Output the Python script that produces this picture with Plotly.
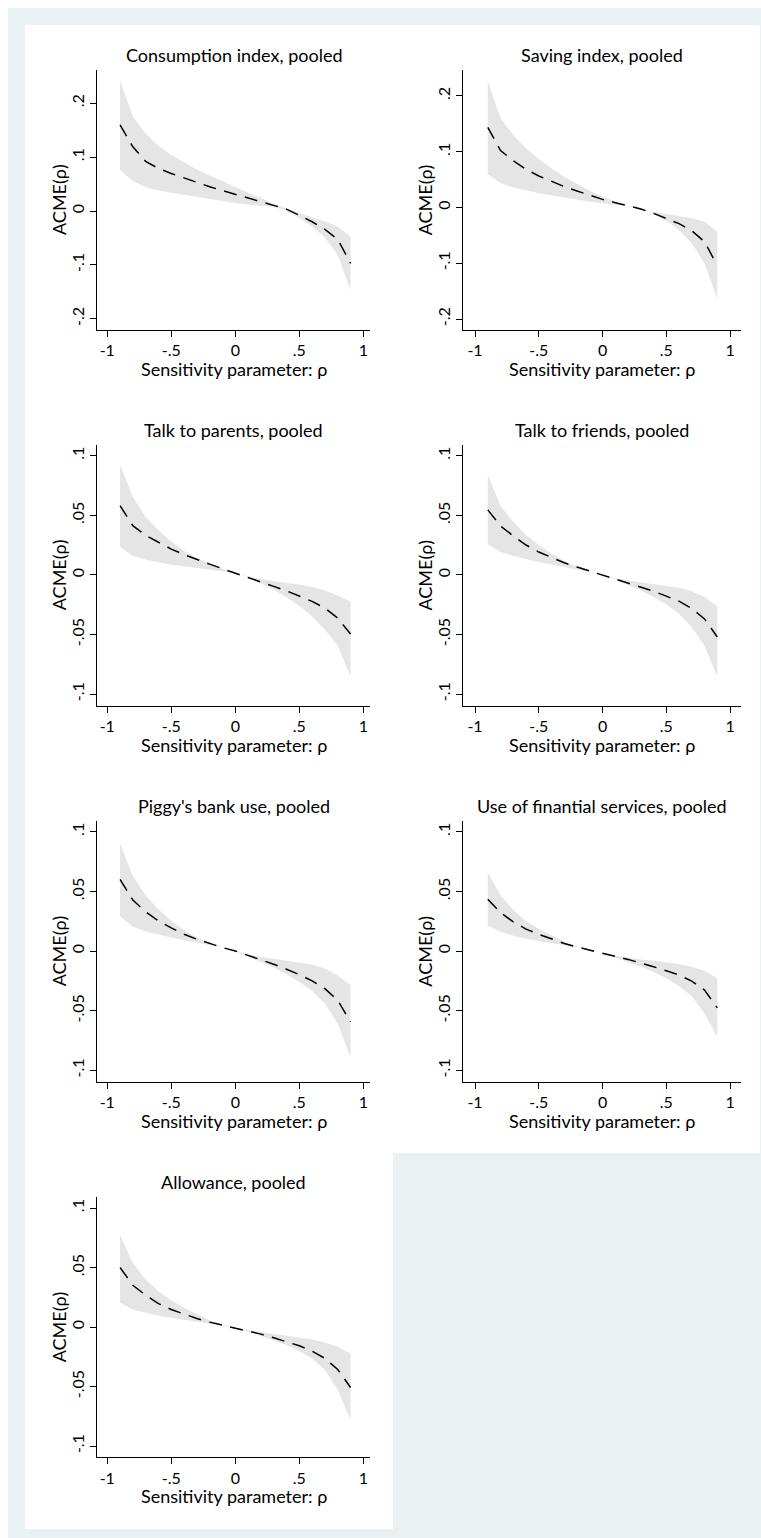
import plotly.graph_objects as go

# ---------------- data ----------------
RHO = [-0.9, -0.8, -0.7, -0.6, -0.5, -0.4, -0.3, -0.2, -0.1, 0.0,
       0.1, 0.2, 0.3, 0.4, 0.5, 0.6, 0.7, 0.8, 0.9]

TITLES = ["Consumption index, pooled", "Saving index, pooled",
          "Talk to parents, pooled", "Talk to friends, pooled",
          "Piggy's bank use, pooled", "Use of finantial services, pooled",
          "Allowance, pooled"]

ACME_CONS = [0.160, 0.119, 0.092, 0.079, 0.0695, 0.061, 0.053, 0.045, 0.0378, 0.031,
             0.0245, 0.018, 0.011, 0.0035, -0.008, -0.020, -0.034, -0.0526, -0.097]
UP_CONS = [0.2418, 0.176, 0.144, 0.121, 0.104, 0.090, 0.077, 0.066, 0.055, 0.044,
           0.034, 0.024, 0.013, 0.0045, -0.004, -0.012, -0.019, -0.029, -0.0476]
LO_CONS = [0.076, 0.0557, 0.044, 0.038, 0.034, 0.030, 0.026, 0.022, 0.018, 0.015,
           0.012, 0.0095, 0.0075, 0.0005, -0.013, -0.029, -0.049, -0.0816, -0.1466]

ACME_SAV = [0.1438, 0.102, 0.084, 0.0685, 0.0565, 0.0464, 0.0374, 0.0296, 0.0218, 0.0146,
            0.0087, 0.0033, -0.0027, -0.0105, -0.0194, -0.029, -0.0416, -0.0613, -0.1043]
UP_SAV = [0.2269, 0.160, 0.130, 0.106, 0.087, 0.070, 0.0553, 0.0422, 0.0302, 0.0194,
          0.0105, 0.0027, -0.0045, -0.0087, -0.0117, -0.0152, -0.0194, -0.0254, -0.0433]
LO_SAV = [0.060, 0.0433, 0.0362, 0.0302, 0.0254, 0.0213, 0.0176, 0.0135, 0.0105, 0.0075,
          0.0051, 0.0027, -0.0015, -0.0105, -0.0236, -0.0404, -0.0643, -0.100, -0.164]

ACME_PAR = [0.0581, 0.0413, 0.0332, 0.0273, 0.0217, 0.017, 0.0128, 0.0091, 0.0052, 0.0016,
            -0.0021, -0.0054, -0.0096, -0.0133, -0.0175, -0.0222, -0.0278, -0.0362, -0.0496]
UP_PAR = [0.0925, 0.0654, 0.0486, 0.0374, 0.0281, 0.0203, 0.0142, 0.0094, 0.0052, 0.0016,
          -0.0012, -0.0035, -0.0052, -0.0065, -0.008, -0.0102, -0.013, -0.0172, -0.0222]
LO_PAR = [0.0234, 0.0161, 0.0128, 0.0105, 0.0086, 0.0072, 0.0058, 0.0046, 0.0032, 0.0016,
          -0.0018, -0.0068, -0.0124, -0.0186, -0.0259, -0.0348, -0.046, -0.0594, -0.0852]

ACME_FRI = [0.0546, 0.0411, 0.0327, 0.0251, 0.0192, 0.0144, 0.0102, 0.0066, 0.0032, 0.0,
            -0.0032, -0.0066, -0.010, -0.0136, -0.0178, -0.022, -0.0282, -0.0369, -0.052]
UP_FRI = [0.084, 0.0579, 0.0445, 0.0335, 0.0251, 0.0178, 0.0116, 0.0066, 0.0027, -0.0004,
          -0.0029, -0.0046, -0.006, -0.0074, -0.0088, -0.0108, -0.0136, -0.0184, -0.0262]
LO_FRI = [0.0257, 0.0192, 0.0158, 0.013, 0.0108, 0.0088, 0.0069, 0.0046, 0.0024, 0.0,
          -0.0038, -0.008, -0.0128, -0.0184, -0.0248, -0.0327, -0.0436, -0.0599, -0.0851]

ACME_PIG = [0.060, 0.0427, 0.0329, 0.0253, 0.0194, 0.0141, 0.0099, 0.0063, 0.0029, 0.0,
            -0.0035, -0.0071, -0.011, -0.0152, -0.0197, -0.025, -0.0315, -0.0413, -0.0594]
UP_PIG = [0.0902, 0.0628, 0.0468, 0.0351, 0.0253, 0.0175, 0.0113, 0.0063, 0.0029, 0.0,
          -0.0027, -0.0049, -0.0066, -0.008, -0.0094, -0.0113, -0.0147, -0.0203, -0.0287]
LO_PIG = [0.0292, 0.0203, 0.0166, 0.0138, 0.0113, 0.0091, 0.0071, 0.0055, 0.0029, 0.0,
          -0.0049, -0.0091, -0.0138, -0.0194, -0.0259, -0.0334, -0.0441, -0.0608, -0.0892]

ACME_FIN = [0.0434, 0.0322, 0.0245, 0.0184, 0.014, 0.010, 0.0064, 0.0034, 0.0006, -0.002,
            -0.0045, -0.007, -0.0098, -0.0131, -0.0165, -0.0201, -0.0252, -0.0327, -0.0476]
UP_FIN = [0.0657, 0.047, 0.0344, 0.0252, 0.0185, 0.0129, 0.0078, 0.0036, 0.0006, -0.002,
          -0.0039, -0.0056, -0.007, -0.0081, -0.0095, -0.0109, -0.0131, -0.0165, -0.0229]
LO_FIN = [0.0213, 0.0162, 0.0129, 0.0103, 0.0084, 0.0064, 0.0048, 0.0031, 0.0008, -0.002,
          -0.0053, -0.009, -0.0131, -0.0176, -0.0229, -0.0294, -0.0378, -0.0523, -0.0719]

ACME_ALL = [0.050, 0.0351, 0.0267, 0.0197, 0.0147, 0.0108, 0.0071, 0.0041, 0.0015, -0.0007,
            -0.0032, -0.006, -0.0091, -0.0124, -0.0158, -0.0203, -0.0264, -0.0357, -0.0508]
UP_ALL = [0.0776, 0.0538, 0.0399, 0.0301, 0.0225, 0.0161, 0.0108, 0.0057, 0.0021, -0.0007,
          -0.0027, -0.0043, -0.006, -0.0074, -0.0088, -0.0105, -0.013, -0.0166, -0.0222]
LO_ALL = [0.0203, 0.0147, 0.0119, 0.0094, 0.0077, 0.006, 0.0043, 0.0029, 0.0013, -0.0007,
          -0.0038, -0.0074, -0.011, -0.0152, -0.0203, -0.0264, -0.0362, -0.053, -0.0782]

X_TICKS = [-1, -0.5, 0, 0.5, 1]
X_LABELS = ["-1", "-.5", "0", ".5", "1"]
Y_TICKS_WIDE = [-0.2, -0.1, 0, 0.1, 0.2]
Y_LABELS_WIDE = ["-.2", "-.1", "0", ".1", ".2"]
Y_TICKS_NARROW = [-0.1, -0.05, 0, 0.05, 0.1]
Y_LABELS_NARROW = ["-.1", "-.05", "0", ".05", ".1"]

X_TITLE = "Sensitivity parameter: ρ"
Y_TITLE = "ACME(ρ)"

SERIES = [(ACME_CONS, UP_CONS, LO_CONS), (ACME_SAV, UP_SAV, LO_SAV),
          (ACME_PAR, UP_PAR, LO_PAR), (ACME_FRI, UP_FRI, LO_FRI),
          (ACME_PIG, UP_PIG, LO_PIG), (ACME_FIN, UP_FIN, LO_FIN),
          (ACME_ALL, UP_ALL, LO_ALL)]

# ---------------- layout geometry (pixels) ----------------
W, H = 761, 1538
FONT = "Lato"
FS = 18
FS_TICK = 16
BG_BLUE = "#EAF1F3"
BAND = "#E5E5E5"

COLS = [(97.0, 370.0, [-1.08, 1.052]), (463.3, 741.0, [-1.092, 1.086])]
ROWS = [(70.0, 330.0), (445.0, 705.5), (821.0, 1081.7), (1197.3, 1457.3)]
Y_RANGES = [[-0.2208, 0.2616], [-0.2197, 0.2466]] + [[-0.1095, 0.109]] * 5


def fx(px):
    return px / W


def fy(py):
    return 1 - py / H


fig = go.Figure()
annotations = []
layout_axes = {}

for i, (title, (mid, up, lo)) in enumerate(zip(TITLES, SERIES)):
    r, c = divmod(i, 2)
    x0, x1, xr = COLS[c]
    y0, y1 = ROWS[r]
    n = i + 1
    xa = "x" if n == 1 else f"x{n}"
    ya = "y" if n == 1 else f"y{n}"
    fig.add_trace(go.Scatter(x=RHO, y=up, mode="lines", line=dict(width=0, color=BAND),
                             xaxis=xa, yaxis=ya, showlegend=False, hoverinfo="skip"))
    fig.add_trace(go.Scatter(x=RHO, y=lo, mode="lines", line=dict(width=0, color=BAND),
                             fill="tonexty", fillcolor=BAND,
                             xaxis=xa, yaxis=ya, showlegend=False, hoverinfo="skip"))
    fig.add_trace(go.Scatter(x=RHO, y=mid, mode="lines",
                             line=dict(width=1.5, color="black", dash="13px,8.5px"),
                             xaxis=xa, yaxis=ya, showlegend=False))
    wide = i < 2
    axcommon = dict(showgrid=False, zeroline=False, showline=True, linecolor="black",
                    linewidth=1, ticks="outside", ticklen=6, tickwidth=1,
                    tickcolor="black", tickfont=dict(family=FONT, size=FS_TICK, color="black"))
    layout_axes["xaxis" if n == 1 else f"xaxis{n}"] = dict(
        domain=[fx(x0), fx(x1)], range=xr, anchor=ya, tickvals=X_TICKS,
        ticktext=X_LABELS, **axcommon)
    layout_axes["yaxis" if n == 1 else f"yaxis{n}"] = dict(
        domain=[fy(y1), fy(y0)], range=Y_RANGES[i], anchor=xa,
        tickvals=Y_TICKS_WIDE if wide else Y_TICKS_NARROW,
        ticktext=Y_LABELS_WIDE if wide else Y_LABELS_NARROW,
        tickangle=-90, **axcommon)
    cx = (x0 + x1) / 2
    annotations.append(dict(text=title, x=fx(cx), y=fy(y0 - 15), xref="paper", yref="paper",
                            showarrow=False, xanchor="center", yanchor="middle",
                            font=dict(family=FONT, size=FS, color="black")))
    annotations.append(dict(text=X_TITLE, x=fx(cx), y=fy(y1 + 39), xref="paper", yref="paper",
                            showarrow=False, xanchor="center", yanchor="middle",
                            font=dict(family=FONT, size=FS, color="black")))
    annotations.append(dict(text=Y_TITLE, x=fx(x0 - 38), y=fy((y0 + y1) / 2), xref="paper",
                            yref="paper", showarrow=False, xanchor="center", yanchor="middle",
                            textangle=-90, font=dict(family=FONT, size=FS, color="black")))

shapes = [
    dict(type="rect", xref="paper", yref="paper", x0=fx(8), x1=fx(761), y0=fy(1538), y1=fy(8),
         fillcolor=BG_BLUE, line=dict(width=0), layer="below"),
    dict(type="rect", xref="paper", yref="paper", x0=fx(25), x1=fx(760), y0=fy(1153), y1=fy(25),
         fillcolor="white", line=dict(width=0), layer="below"),
    dict(type="rect", xref="paper", yref="paper", x0=fx(25), x1=fx(393), y0=fy(1529), y1=fy(1152),
         fillcolor="white", line=dict(width=0), layer="below"),
]

fig.update_layout(width=W, height=H, margin=dict(l=0, r=0, t=0, b=0),
                  paper_bgcolor="white", plot_bgcolor="rgba(0,0,0,0)",
                  annotations=annotations, shapes=shapes, showlegend=False,
                  font=dict(family=FONT, size=FS, color="black"), **layout_axes)

fig.write_html("out.html")
